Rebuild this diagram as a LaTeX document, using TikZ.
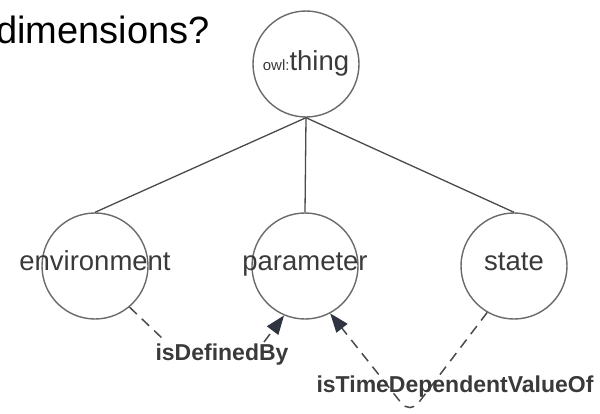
\documentclass[tikz,border=0pt]{standalone}
\usepackage{fontspec}
\setmainfont{Liberation Sans}
\usetikzlibrary{arrows.meta}
\definecolor{circ}{HTML}{6A6A6A}
\definecolor{txt}{HTML}{3A3A3A}
\definecolor{edge}{HTML}{4A4A4A}
\definecolor{arr}{HTML}{2E3440}
\begin{document}
\begin{tikzpicture}[x=1pt,y=-1pt,
  cls/.style={circle,draw=circ,line width=1.4pt,minimum size=106pt,inner sep=0pt},
  clstext/.style={anchor=base,inner sep=0pt,text=txt,font=\fontsize{27.5}{30}\selectfont},
  tree/.style={draw=edge,line width=1.3pt},
  rel/.style={draw=edge,line width=1.5pt,dash pattern=on 10pt off 7pt},
  relarrow/.style={rel,-{Triangle[length=19pt,width=14pt,color=arr,fill=arr]}},
  lbl/.style={font=\fontsize{23}{25}\selectfont\bfseries,text=txt,inner sep=1pt}]
\useasboundingbox (0,0) rectangle (600,413);
\fill[white] (0,0) rectangle (600,413);
\node[anchor=base west,inner sep=0pt,font=\fontsize{38}{40}\selectfont] (q) at (-4,43) {dimensions?};
\node[cls] (thing) at (306,64) {};
\node[clstext] (thingt) at (306,70) {\fontsize{15}{16}\selectfont owl:\fontsize{27.5}{30}\selectfont thing};
\node[cls] (env) at (95,266) {};
\node[clstext] (envt) at (95,270) {environment};
\node[cls] (par) at (305,266) {};
\node[clstext] (part) at (305,270) {parameter};
\node[cls] (sta) at (514,266) {};
\node[clstext] (stat) at (514,270) {state};
\draw[tree] (thing.south) -- (env.north);
\draw[tree] (thing.south) -- (par.north);
\draw[tree] (thing.south) -- (sta.north);
\coordinate (a1) at (163,339);
\coordinate (a2) at (264,342);
\draw[rel] (env.-50) -- (a1);
\draw[relarrow] (a2) -- (par.-113);
\node[lbl] (l1) at (222,355) {isDefinedBy};
\coordinate (v) at (410,414);
\draw[relarrow,rounded corners=14pt] (sta.-120) -- (v) -- (par.-62);
\node[lbl] (l2) at (455,387) {isTimeDependentValueOf};
\end{tikzpicture}
\end{document}
